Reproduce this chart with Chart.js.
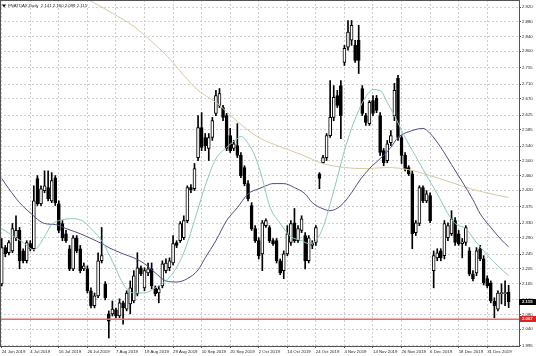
<!DOCTYPE html>
<html>
<head>
<meta charset="utf-8">
<script src="https://cdn.jsdelivr.net/npm/chart.js@4.4.1/dist/chart.umd.min.js"></script>
<style>
html, body { margin: 0; padding: 0; background: #fff; }
#wrap { width: 536px; height: 356px; }
</style>
</head>
<body>
<div id="wrap"><canvas id="priceChart"></canvas></div>
<script>
var symbolName = "FNATDAX,Daily";

// every 8th bar gets a date label
var dateLabels = ["24 Jun 2019", "4 Jul 2019", "16 Jul 2019", "26 Jul 2019", "7 Aug 2019",
  "19 Aug 2019", "29 Aug 2019", "10 Sep 2019", "20 Sep 2019", "2 Oct 2019", "14 Oct 2019",
  "24 Oct 2019", "4 Nov 2019", "14 Nov 2019", "26 Nov 2019", "6 Dec 2019", "18 Dec 2019",
  "31 Dec 2019"];

var yTickLabels = ["2.920", "2.880", "2.840", "2.800", "2.755", "2.710", "2.670", "2.625",
  "2.585", "2.540", "2.500", "2.460", "2.420", "2.375", "2.330", "2.290", "2.245", "2.205",
  "2.165", "2.120", "2.080", "2.040", "1.995"];

var openP = [2.164, 2.263, 2.249, 2.254, 2.290, 2.310, 2.254, 2.227, 2.274, 2.260,
  2.452, 2.383, 2.419, 2.427, 2.391, 2.454, 2.383, 2.329, 2.301, 2.260,
  2.205, 2.290, 2.260, 2.205, 2.205, 2.145, 2.104, 2.131, 2.227, 2.164,
  2.082, 2.082, 2.093, 2.076, 2.112, 2.095, 2.109, 2.117, 2.137, 2.208,
  2.153, 2.194, 2.205, 2.153, 2.139, 2.158, 2.200, 2.208, 2.221, 2.277,
  2.282, 2.290, 2.337, 2.427, 2.424, 2.509, 2.591, 2.564, 2.534, 2.564,
  2.630, 2.652, 2.646, 2.624, 2.569, 2.534, 2.542, 2.515, 2.482, 2.438,
  2.378, 2.315, 2.282, 2.246, 2.323, 2.318, 2.282, 2.282, 2.227, 2.200,
  2.246, 2.277, 2.331, 2.282, 2.310, 2.296, 2.227, 2.269, 2.277, 2.465,
  2.495, 2.509, 2.569, 2.619, 2.679, 2.706, 2.769, 2.811, 2.830, 2.816,
  2.830, 2.698, 2.624, 2.602, 2.665, 2.671, 2.624, 2.528, 2.501, 2.550,
  2.624, 2.726, 2.564, 2.515, 2.482, 2.465, 2.304, 2.329, 2.427, 2.391,
  2.405, 2.200, 2.235, 2.254, 2.241, 2.290, 2.301, 2.337, 2.301, 2.274,
  2.277, 2.254, 2.191, 2.194, 2.260, 2.232, 2.178, 2.167, 2.117, 2.095,
  2.137, 2.137, 2.141];
var highP = [2.288, 2.269, 2.282, 2.329, 2.350, 2.318, 2.260, 2.282, 2.282, 2.432,
  2.460, 2.432, 2.473, 2.473, 2.468, 2.460, 2.391, 2.337, 2.310, 2.269,
  2.296, 2.296, 2.269, 2.221, 2.213, 2.153, 2.139, 2.249, 2.318, 2.170,
  2.090, 2.117, 2.098, 2.123, 2.117, 2.145, 2.172, 2.200, 2.249, 2.213,
  2.208, 2.221, 2.221, 2.158, 2.158, 2.227, 2.232, 2.235, 2.296, 2.282,
  2.334, 2.350, 2.432, 2.435, 2.493, 2.624, 2.632, 2.575, 2.575, 2.619,
  2.693, 2.698, 2.652, 2.630, 2.589, 2.556, 2.602, 2.523, 2.487, 2.446,
  2.386, 2.323, 2.290, 2.337, 2.342, 2.323, 2.288, 2.288, 2.232, 2.254,
  2.323, 2.337, 2.370, 2.323, 2.350, 2.304, 2.296, 2.282, 2.323, 2.468,
  2.515, 2.575, 2.720, 2.706, 2.693, 2.720, 2.816, 2.884, 2.884, 2.830,
  2.871, 2.706, 2.630, 2.665, 2.679, 2.679, 2.632, 2.534, 2.556, 2.583,
  2.712, 2.734, 2.569, 2.523, 2.487, 2.473, 2.337, 2.432, 2.432, 2.419,
  2.413, 2.254, 2.260, 2.260, 2.337, 2.331, 2.364, 2.345, 2.310, 2.288,
  2.323, 2.263, 2.200, 2.263, 2.269, 2.241, 2.186, 2.172, 2.126, 2.145,
  2.164, 2.172, 2.160];
var lowP = [2.158, 2.238, 2.243, 2.249, 2.282, 2.205, 2.221, 2.221, 2.254, 2.254,
  2.378, 2.378, 2.413, 2.391, 2.386, 2.378, 2.304, 2.282, 2.277, 2.200,
  2.200, 2.249, 2.194, 2.200, 2.139, 2.098, 2.098, 2.126, 2.221, 2.120,
  2.016, 2.076, 2.071, 2.071, 2.054, 2.090, 2.082, 2.112, 2.131, 2.186,
  2.145, 2.186, 2.150, 2.131, 2.112, 2.153, 2.194, 2.200, 2.216, 2.263,
  2.277, 2.285, 2.331, 2.413, 2.419, 2.501, 2.528, 2.528, 2.501, 2.556,
  2.624, 2.646, 2.610, 2.528, 2.523, 2.528, 2.509, 2.454, 2.432, 2.391,
  2.310, 2.277, 2.232, 2.200, 2.318, 2.277, 2.269, 2.221, 2.189, 2.178,
  2.241, 2.269, 2.277, 2.277, 2.304, 2.205, 2.221, 2.260, 2.269, 2.424,
  2.493, 2.501, 2.564, 2.610, 2.646, 2.561, 2.761, 2.803, 2.816, 2.769,
  2.739, 2.624, 2.597, 2.597, 2.624, 2.632, 2.515, 2.487, 2.495, 2.542,
  2.610, 2.556, 2.493, 2.473, 2.460, 2.260, 2.296, 2.323, 2.386, 2.386,
  2.331, 2.153, 2.227, 2.227, 2.232, 2.282, 2.296, 2.269, 2.269, 2.235,
  2.269, 2.186, 2.172, 2.186, 2.227, 2.161, 2.153, 2.112, 2.071, 2.090,
  2.109, 2.104, 2.099];
var closeP = [2.263, 2.246, 2.277, 2.315, 2.310, 2.227, 2.227, 2.277, 2.260, 2.391,
  2.383, 2.424, 2.432, 2.397, 2.446, 2.386, 2.310, 2.290, 2.282, 2.205,
  2.290, 2.254, 2.200, 2.213, 2.145, 2.104, 2.131, 2.227, 2.241, 2.126,
  2.062, 2.095, 2.076, 2.112, 2.098, 2.139, 2.153, 2.186, 2.208, 2.191,
  2.200, 2.205, 2.158, 2.137, 2.150, 2.219, 2.221, 2.227, 2.274, 2.269,
  2.329, 2.337, 2.427, 2.421, 2.479, 2.591, 2.537, 2.542, 2.564, 2.610,
  2.679, 2.684, 2.619, 2.534, 2.528, 2.547, 2.515, 2.460, 2.438, 2.397,
  2.315, 2.282, 2.241, 2.331, 2.337, 2.282, 2.274, 2.227, 2.194, 2.246,
  2.301, 2.329, 2.282, 2.315, 2.342, 2.227, 2.290, 2.274, 2.318, 2.452,
  2.509, 2.569, 2.619, 2.674, 2.652, 2.624, 2.808, 2.852, 2.871, 2.775,
  2.775, 2.630, 2.605, 2.660, 2.630, 2.638, 2.523, 2.495, 2.547, 2.569,
  2.693, 2.564, 2.515, 2.479, 2.465, 2.301, 2.331, 2.427, 2.391, 2.410,
  2.337, 2.241, 2.249, 2.235, 2.329, 2.323, 2.342, 2.277, 2.274, 2.279,
  2.318, 2.191, 2.178, 2.254, 2.232, 2.167, 2.158, 2.117, 2.104, 2.139,
  2.139, 2.139, 2.115];

// moving averages: [bar index, price]
var maFast = [[0, 2.315], [3, 2.296], [6, 2.277], [9, 2.257], [12, 2.293], [14, 2.326],
  [17, 2.339], [20, 2.342], [23, 2.334], [25, 2.315], [28, 2.282], [30, 2.246], [32, 2.205],
  [34, 2.164], [37, 2.139], [40, 2.139], [43, 2.153], [46, 2.172], [48, 2.194], [51, 2.249],
  [54, 2.337], [57, 2.432], [60, 2.506], [63, 2.537], [66, 2.561], [67, 2.567], [69, 2.548],
  [71, 2.512], [73, 2.452], [75, 2.378], [78, 2.329], [81, 2.293], [84, 2.282], [86, 2.274],
  [88, 2.282], [90, 2.318], [92, 2.383], [94, 2.454], [96, 2.528], [98, 2.589], [100, 2.638],
  [102, 2.676], [104, 2.695], [106, 2.693], [108, 2.660], [110, 2.624], [113, 2.564],
  [117, 2.495], [119, 2.460], [122, 2.410], [125, 2.356], [127, 2.329], [130, 2.315],
  [133, 2.277], [136, 2.243], [139, 2.213], [142, 2.186]];
var maMid = [[0, 2.452], [2, 2.424], [5, 2.386], [8, 2.358], [12, 2.329], [15, 2.326],
  [18, 2.315], [22, 2.301], [25, 2.288], [28, 2.274], [30, 2.263], [34, 2.246], [37, 2.235],
  [40, 2.219], [43, 2.194], [46, 2.172], [49, 2.169], [52, 2.178], [55, 2.202], [57, 2.235],
  [60, 2.282], [63, 2.337], [66, 2.372], [69, 2.410], [72, 2.424], [74, 2.432], [76, 2.438],
  [79, 2.438], [82, 2.427], [85, 2.410], [87, 2.386], [90, 2.369], [92, 2.364], [95, 2.378],
  [98, 2.413], [100, 2.443], [103, 2.479], [106, 2.506], [109, 2.537], [111, 2.564],
  [115, 2.583], [118, 2.589], [120, 2.575], [123, 2.537], [126, 2.490], [129, 2.443],
  [132, 2.394], [134, 2.356], [137, 2.318], [140, 2.284], [142, 2.265]];
var maSlow = [[18, 2.980], [22, 2.953], [25, 2.937], [31, 2.904], [37, 2.868], [41, 2.835],
  [45, 2.800], [48, 2.769], [51, 2.734], [55, 2.693], [60, 2.660], [66, 2.608], [72, 2.564],
  [78, 2.539], [84, 2.517], [90, 2.493], [96, 2.482], [102, 2.479], [108, 2.482],
  [114, 2.476], [120, 2.460], [126, 2.441], [132, 2.422], [138, 2.408], [142, 2.400]];

var levelLine = 2.067;

var labelFont = { family: "Liberation Sans", size: 4.3 };

var idx = openP.map(function (v, i) { return i; });
var wickData = idx.map(function (i) { return { x: i, y: [lowP[i], highP[i]] }; });
var bodyData = idx.map(function (i) { return { x: i, y: [openP[i], closeP[i]] }; });
var bodyColors = idx.map(function (i) { return closeP[i] >= openP[i] ? "#ffffff" : "#000000"; });

function toPoints(list) {
  return list.map(function (p) { return { x: p[0], y: p[1] }; });
}

function priceTag(chart, value, bg) {
  var c = chart.ctx;
  var y = chart.scales.y.getPixelForValue(value);
  var x = chart.chartArea.right;
  c.save();
  c.fillStyle = bg;
  c.fillRect(x, Math.round(y) - 3, chart.width - x, 6);
  c.fillStyle = "#ffffff";
  c.font = "bold 4.3px 'Liberation Sans'";
  c.textBaseline = "middle";
  c.fillText(value.toFixed(3), x + 3, y);
  c.restore();
}

var overlay = {
  id: "overlay",
  afterDatasetsDraw: function (chart) {
    var c = chart.ctx, a = chart.chartArea;
    var y = chart.scales.y.getPixelForValue(levelLine);
    c.save();
    c.setLineDash([]);
    c.strokeStyle = "#ec6a6a";
    c.lineWidth = 1.5;
    c.beginPath();
    c.moveTo(a.left, y);
    c.lineTo(a.right, y);
    c.stroke();
    c.restore();
  },
  afterDraw: function (chart) {
    var c = chart.ctx, a = chart.chartArea;
    var last = closeP.length - 1;
    c.save();
    c.strokeStyle = "#555555";
    c.lineWidth = 1;
    c.strokeRect(a.left + 0.5, a.top + 0.5, a.right - a.left, a.bottom - a.top);
    // little symbol arrow + header text
    c.fillStyle = "#000000";
    c.beginPath();
    c.moveTo(2, 4.5);
    c.lineTo(6, 4.5);
    c.lineTo(4, 7.5);
    c.closePath();
    c.fill();
    c.fillStyle = "#222222";
    c.font = "4.3px 'Liberation Sans'";
    c.textBaseline = "middle";
    c.fillText(symbolName + "  " + openP[last].toFixed(3) + " " + highP[last].toFixed(3) + " " +
      lowP[last].toFixed(3) + " " + closeP[last].toFixed(3), 8, 6);
    c.restore();
    priceTag(chart, closeP[last], "#000000");
    priceTag(chart, levelLine, "#e02020");
  }
};

new Chart(document.getElementById("priceChart"), {
  type: "bar",
  data: {
    datasets: [
      {
        type: "line", data: toPoints(maFast), borderColor: "#8cc7bd", borderWidth: 1,
        pointRadius: 0, cubicInterpolationMode: "monotone", order: 0
      },
      {
        type: "line", data: toPoints(maMid), borderColor: "#4d4d86", borderWidth: 1,
        pointRadius: 0, cubicInterpolationMode: "monotone", order: 1
      },
      {
        type: "line", data: toPoints(maSlow), borderColor: "#d9c8a3", borderWidth: 1,
        pointRadius: 0, cubicInterpolationMode: "monotone", order: 2
      },
      {
        data: bodyData, backgroundColor: bodyColors, borderColor: "#000000", borderWidth: 1,
        borderSkipped: false, barThickness: 3, minBarLength: 1, grouped: false, order: 3
      },
      {
        data: wickData, backgroundColor: "#000000", barThickness: 1, grouped: false, order: 4
      }
    ]
  },
  options: {
    responsive: true,
    maintainAspectRatio: false,
    animation: false,
    layout: { padding: 0 },
    plugins: { legend: { display: false }, tooltip: { enabled: false } },
    scales: {
      x: {
        type: "linear",
        min: -0.48,
        max: 144.9,
        offset: false,
        afterBuildTicks: function (s) {
          s.ticks = dateLabels.map(function (t, k) { return { value: k * 8 }; });
        },
        afterFit: function (s) { s.height = 10; s.paddingLeft = 0; s.paddingRight = 0; },
        ticks: {
          callback: function (v, i) { return dateLabels[i]; },
          align: "start", maxRotation: 0, autoSkip: false, padding: 1,
          font: labelFont, color: "#222222"
        },
        grid: { color: "#cfcfcf", offset: false, tickLength: 2, tickColor: "#555555" },
        border: { display: true, color: "#555555", dash: [2, 2] }
      },
      y: {
        position: "right",
        min: 1.994,
        max: 2.940,
        afterBuildTicks: function (s) {
          s.ticks = yTickLabels.map(function (t) { return { value: parseFloat(t) }; });
        },
        afterFit: function (s) { s.width = 17; s.paddingTop = 0; s.paddingBottom = 0; },
        ticks: {
          callback: function (v, i) { return yTickLabels[i]; },
          autoSkip: false, padding: 1, font: labelFont, color: "#222222"
        },
        grid: { color: "#cfcfcf", tickLength: 2, tickColor: "#555555" },
        border: { display: true, color: "#555555", dash: [2, 2] }
      }
    }
  },
  plugins: [overlay]
});
</script>
</body>
</html>
